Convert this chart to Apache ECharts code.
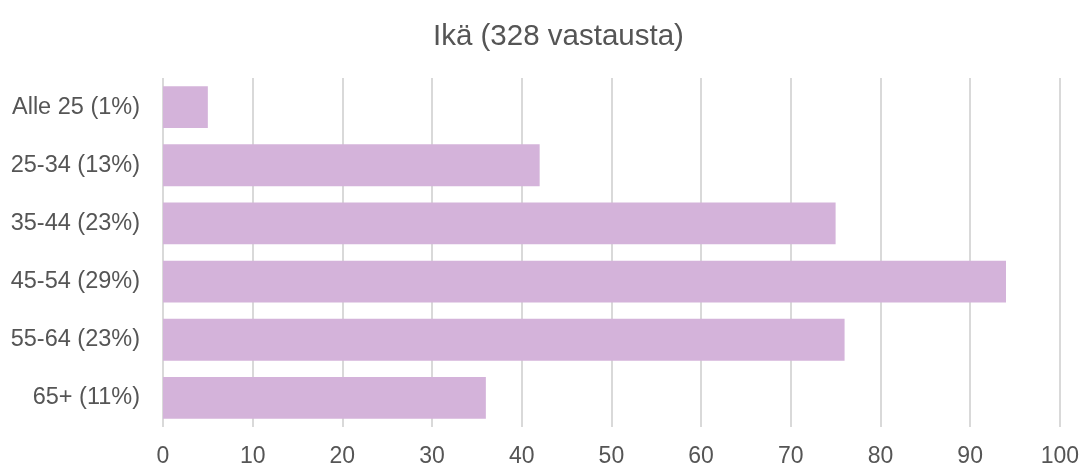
<!DOCTYPE html>
<html><head><meta charset="utf-8">
<script src="https://cdn.jsdelivr.net/npm/echarts@6/dist/echarts.min.js"></script>
<style>html,body{margin:0;padding:0;background:#fff}#c{width:1082px;height:468px}</style>
</head><body><div id="c"></div>
<script>
const title = 'Ikä (328 vastausta)';
const categories = ['Alle 25 (1%)', '25-34 (13%)', '35-44 (23%)', '45-54 (29%)', '55-64 (23%)', '65+ (11%)'];
const values = [5, 42, 75, 94, 76, 36];
const xTicks = [0, 10, 20, 30, 40, 50, 60, 70, 80, 90, 100];

const chart = echarts.init(document.getElementById('c'));
chart.setOption({
  backgroundColor: '#fff',
  animation: false,
  title: { text: title, left: 428, top: 17,
    textStyle: { fontFamily: 'Liberation Sans', fontSize: 29.5, fontWeight: 'normal', color: '#555' } },
  grid: { left: 163, right: 22, top: 78, bottom: 41, containLabel: false },
  xAxis: { type: 'value', min: xTicks[0], max: xTicks[xTicks.length - 1], interval: 10,
    axisLine: { show: false }, axisTick: { show: false },
    splitLine: { show: true, lineStyle: { color: '#d9d9d9', width: 2 } },
    axisLabel: { margin: 18, fontFamily: 'Liberation Sans', fontSize: 23, color: '#555' } },
  yAxis: { type: 'category', data: categories, inverse: true,
    axisLine: { show: false }, axisTick: { show: false },
    axisLabel: { margin: 23, fontFamily: 'Liberation Sans', fontSize: 23.5, color: '#555' } },
  series: [{ type: 'bar', data: values, barCategoryGap: '28%',
    itemStyle: { color: '#d4b3da' } }]
});
</script></body></html>
